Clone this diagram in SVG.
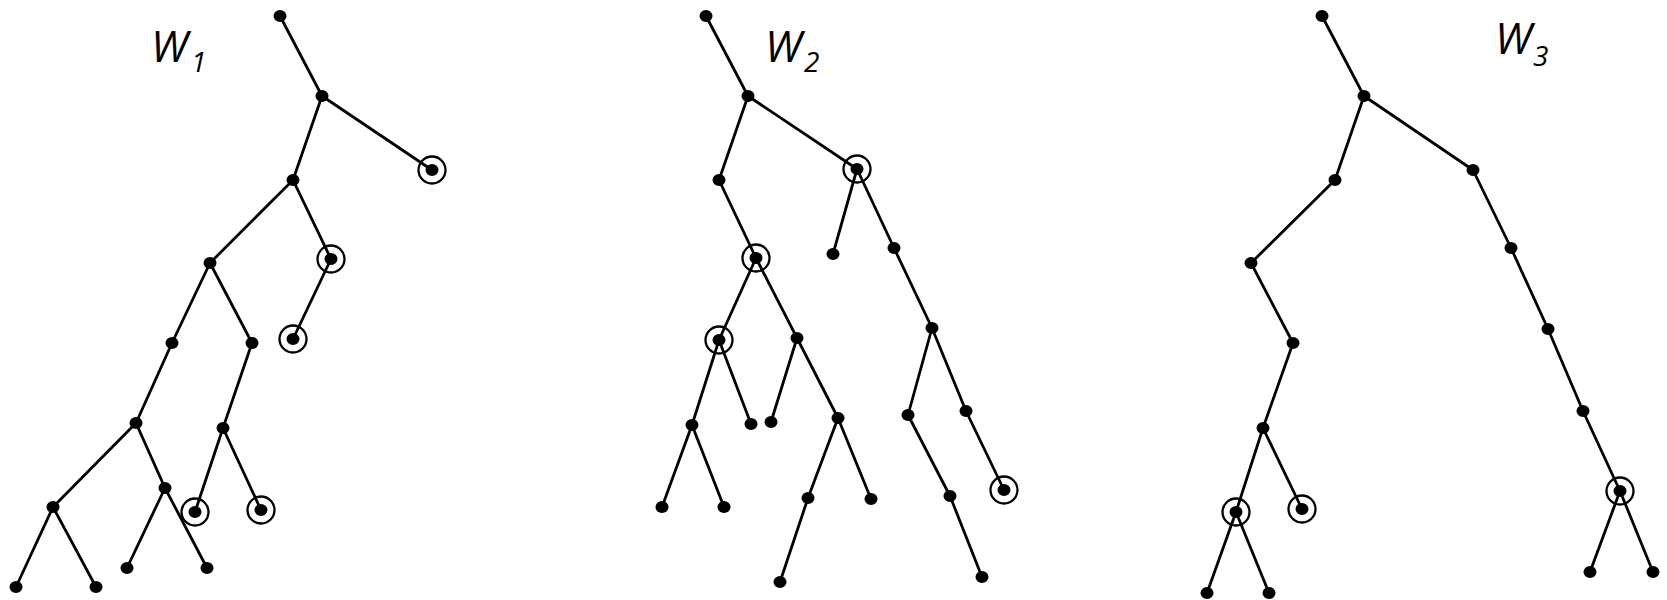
<svg xmlns="http://www.w3.org/2000/svg" width="1667" height="600" viewBox="0 0 1667 600">
<style>
.e{stroke:#000;stroke-width:2.8;fill:none;stroke-linecap:round}
.d{fill:#000}
.r{fill:none;stroke:#000;stroke-width:2.3}
.lbl{font-family:"Open Sans","Noto Sans",sans-serif;font-style:italic;fill:#000}
.big{font-size:43px}
.sub{font-size:28px}
</style>
<defs>
<ellipse id="dot" rx="6.5" ry="6" class="d"/>
<circle id="ring" r="13.5" class="r"/>
</defs>
<rect width="1667" height="600" fill="#fff"/>
<g id="connectors">
<!-- tree 1 -->
<path class="e" d="M280,16L322,96 M322,96L432,170 M322,96L293,180 M293,180L210,263 M293,180L331,259 M331,259L293,339 M210,263L172,343 M210,263L252,343 M172,343L136,423 M252,343L223,428 M136,423L53,507 M136,423L165,488 M223,428L195,512 M223,428L261,510 M53,507L16,587 M53,507L96,587 M165,488L127,568 M165,488L207,568"/>
<!-- tree 2 -->
<path class="e" d="M706,16L748,96 M748,96L719,180 M748,96L857,169 M719,180L756,258 M857,169L833,254 M857,169L894,248 M756,258L719,340 M756,258L797,338 M894,248L932,328 M719,340L692,425 M719,340L751,424 M797,338L771,422 M797,338L838,418 M932,328L908,415 M932,328L966,411 M692,425L662,507 M692,425L724,507 M838,418L808,498 M838,418L871,499 M908,415L950,496 M966,411L1004,490 M808,498L780,582 M950,496L982,577"/>
<!-- tree 3 -->
<path class="e" d="M1322,16L1364,96 M1364,96L1335,180 M1364,96L1473,170 M1335,180L1251,263 M1473,170L1511,248 M1251,263L1293,343 M1511,248L1548,329 M1293,343L1263,428 M1548,329L1583,411 M1263,428L1236,512 M1263,428L1302,509 M1583,411L1620,491 M1236,512L1207,593 M1236,512L1269,593 M1620,491L1590,572 M1620,491L1653,572"/>
</g>
<g id="label-w1"><text class="lbl big" x="151" y="62">W</text><text class="lbl sub" x="191" y="72">1</text></g>
<g id="label-w2"><text class="lbl big" x="765" y="62">W</text><text class="lbl sub" x="804" y="72">2</text></g>
<g id="label-w3"><text class="lbl big" x="1495" y="54">W</text><text class="lbl sub" x="1533" y="66">3</text></g>
<!-- tree 1 nodes -->
<g id="t1-a"><use href="#dot" x="280" y="16"/></g>
<g id="t1-b"><use href="#dot" x="322" y="96"/></g>
<g id="t1-c"><use href="#dot" x="432" y="170"/><use href="#ring" x="432" y="170"/></g>
<g id="t1-d"><use href="#dot" x="293" y="180"/></g>
<g id="t1-e"><use href="#dot" x="210" y="263"/></g>
<g id="t1-f"><use href="#dot" x="331" y="259"/><use href="#ring" x="331" y="259"/></g>
<g id="t1-g"><use href="#dot" x="293" y="339"/><use href="#ring" x="293" y="339"/></g>
<g id="t1-h"><use href="#dot" x="172" y="343"/></g>
<g id="t1-i"><use href="#dot" x="252" y="343"/></g>
<g id="t1-j"><use href="#dot" x="136" y="423"/></g>
<g id="t1-k"><use href="#dot" x="223" y="428"/></g>
<g id="t1-l"><use href="#dot" x="53" y="507"/></g>
<g id="t1-m"><use href="#dot" x="165" y="488"/></g>
<g id="t1-n"><use href="#dot" x="195" y="512"/><use href="#ring" x="195" y="512"/></g>
<g id="t1-o"><use href="#dot" x="261" y="510"/><use href="#ring" x="261" y="510"/></g>
<g id="t1-p"><use href="#dot" x="16" y="587"/></g>
<g id="t1-q"><use href="#dot" x="96" y="587"/></g>
<g id="t1-r"><use href="#dot" x="127" y="568"/></g>
<g id="t1-s"><use href="#dot" x="207" y="568"/></g>
<!-- tree 2 nodes -->
<g id="t2-a"><use href="#dot" x="706" y="16"/></g>
<g id="t2-b"><use href="#dot" x="748" y="96"/></g>
<g id="t2-c"><use href="#dot" x="719" y="180"/></g>
<g id="t2-d"><use href="#dot" x="857" y="169"/><use href="#ring" x="857" y="169"/></g>
<g id="t2-e"><use href="#dot" x="756" y="258"/><use href="#ring" x="756" y="258"/></g>
<g id="t2-f"><use href="#dot" x="833" y="254"/></g>
<g id="t2-g"><use href="#dot" x="894" y="248"/></g>
<g id="t2-h"><use href="#dot" x="719" y="340"/><use href="#ring" x="719" y="340"/></g>
<g id="t2-i"><use href="#dot" x="797" y="338"/></g>
<g id="t2-j"><use href="#dot" x="932" y="328"/></g>
<g id="t2-k"><use href="#dot" x="692" y="425"/></g>
<g id="t2-l"><use href="#dot" x="751" y="424"/></g>
<g id="t2-m"><use href="#dot" x="771" y="422"/></g>
<g id="t2-n"><use href="#dot" x="838" y="418"/></g>
<g id="t2-o"><use href="#dot" x="908" y="415"/></g>
<g id="t2-p"><use href="#dot" x="966" y="411"/></g>
<g id="t2-q"><use href="#dot" x="662" y="507"/></g>
<g id="t2-r"><use href="#dot" x="724" y="507"/></g>
<g id="t2-s"><use href="#dot" x="808" y="498"/></g>
<g id="t2-t"><use href="#dot" x="871" y="499"/></g>
<g id="t2-u"><use href="#dot" x="950" y="496"/></g>
<g id="t2-v"><use href="#dot" x="1004" y="490"/><use href="#ring" x="1004" y="490"/></g>
<g id="t2-w"><use href="#dot" x="780" y="582"/></g>
<g id="t2-x"><use href="#dot" x="982" y="577"/></g>
<!-- tree 3 nodes -->
<g id="t3-a"><use href="#dot" x="1322" y="16"/></g>
<g id="t3-b"><use href="#dot" x="1364" y="96"/></g>
<g id="t3-c"><use href="#dot" x="1335" y="180"/></g>
<g id="t3-d"><use href="#dot" x="1473" y="170"/></g>
<g id="t3-e"><use href="#dot" x="1251" y="263"/></g>
<g id="t3-f"><use href="#dot" x="1511" y="248"/></g>
<g id="t3-g"><use href="#dot" x="1293" y="343"/></g>
<g id="t3-h"><use href="#dot" x="1548" y="329"/></g>
<g id="t3-i"><use href="#dot" x="1263" y="428"/></g>
<g id="t3-j"><use href="#dot" x="1583" y="411"/></g>
<g id="t3-k"><use href="#dot" x="1236" y="512"/><use href="#ring" x="1236" y="512"/></g>
<g id="t3-l"><use href="#dot" x="1302" y="509"/><use href="#ring" x="1302" y="509"/></g>
<g id="t3-m"><use href="#dot" x="1620" y="491"/><use href="#ring" x="1620" y="491"/></g>
<g id="t3-n"><use href="#dot" x="1207" y="593"/></g>
<g id="t3-o"><use href="#dot" x="1269" y="593"/></g>
<g id="t3-p"><use href="#dot" x="1590" y="572"/></g>
<g id="t3-q"><use href="#dot" x="1653" y="572"/></g>
</svg>
